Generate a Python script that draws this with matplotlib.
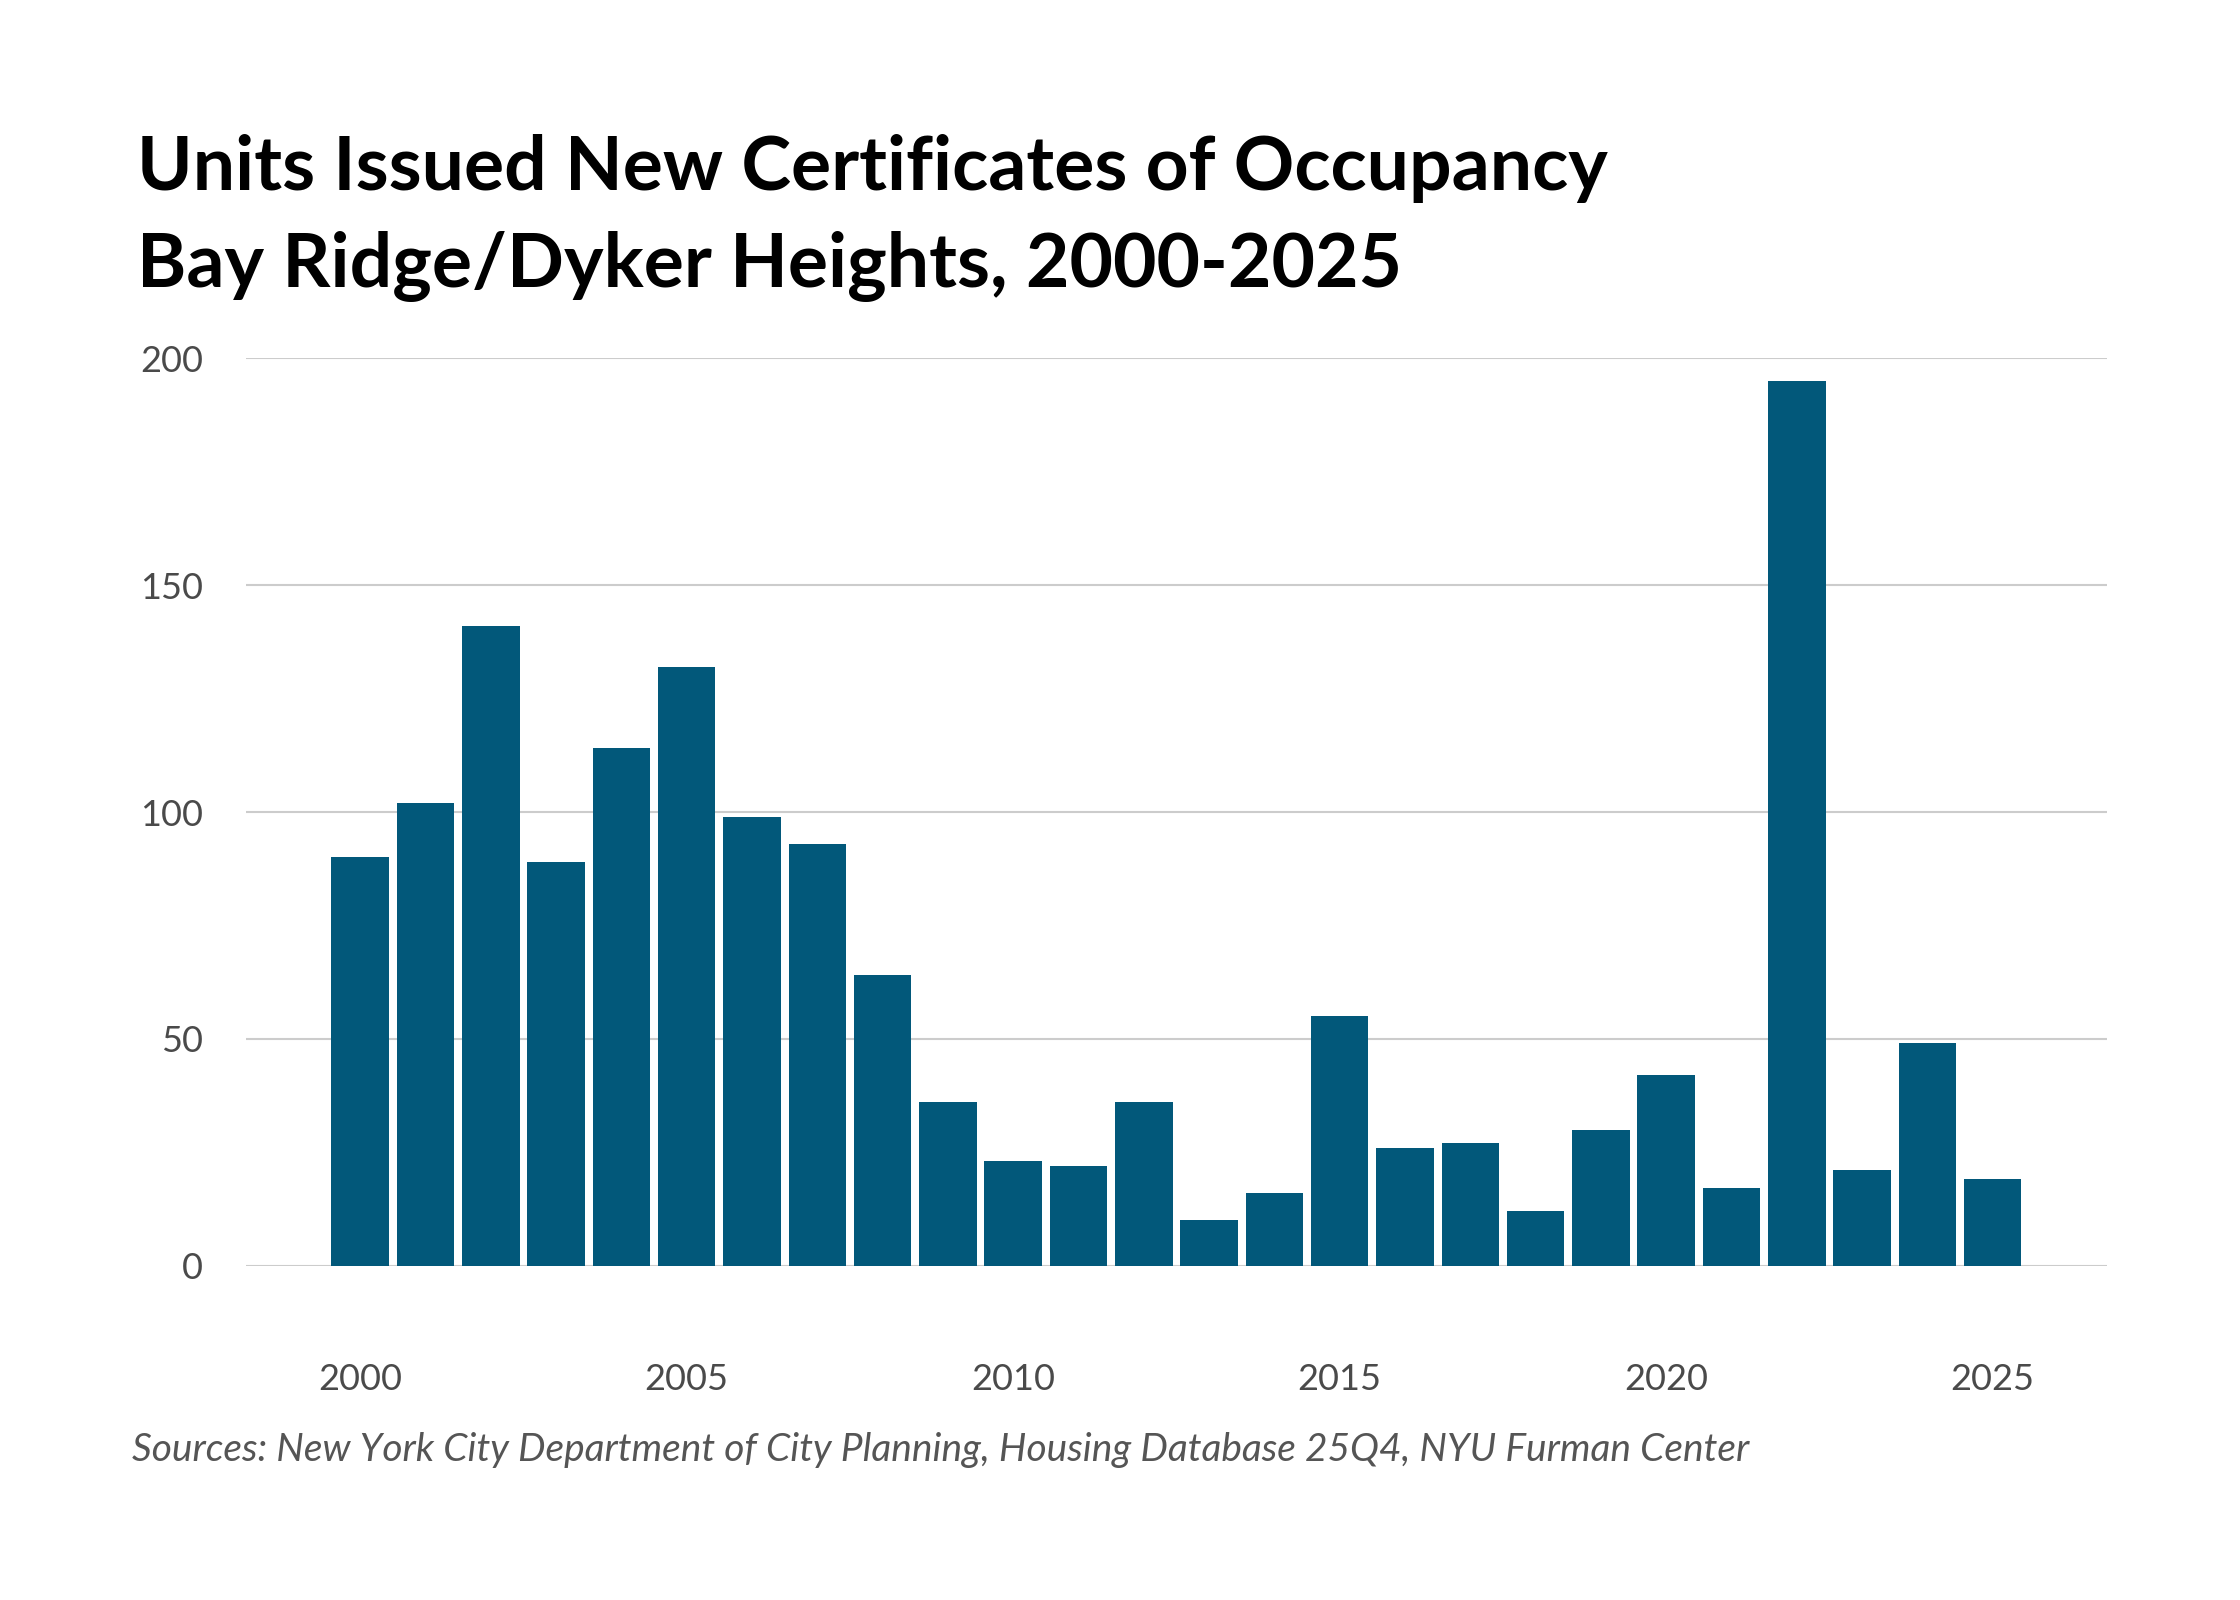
import matplotlib
matplotlib.use("Agg")
import matplotlib.pyplot as plt

years = list(range(2000, 2026))
units = [90, 102, 141, 89, 114, 132, 99, 93, 64, 36, 23, 22, 36,
         10, 16, 55, 26, 27, 12, 30, 42, 17, 195, 21, 49, 19]
y_ticks = [0, 50, 100, 150, 200]
x_ticks = [2000, 2005, 2010, 2015, 2020, 2025]

title = "Units Issued New Certificates of Occupancy\nBay Ridge/Dyker Heights, 2000-2025"
source = "Sources: New York City Department of City Planning, Housing Database 25Q4, NYU Furman Center"

plt.rcParams['font.family'] = ['Lato', 'DejaVu Sans']

fig = plt.figure(figsize=(22.4, 16), dpi=100)
ax = fig.add_axes([0.1098, 0.209, 0.8308, 0.567])

ax.bar(years, units, width=0.88, color='#02587a', zorder=3)

ax.set_xlim(1998.25, 2026.75)
ax.set_ylim(0, 200)
ax.set_yticks(y_ticks)
ax.set_xticks(x_ticks)
ax.grid(axis='y', color='#cccccc', linewidth=1.5, zorder=0)
for s in ax.spines.values():
    s.set_visible(False)
ax.tick_params(axis='both', length=0, labelsize=26, labelcolor='#4a4a4a')
ax.tick_params(axis='x', pad=70)
ax.tick_params(axis='y', pad=31)

fig.text(0.061, 0.916, title, fontsize=54, fontweight='bold', color='black',
         va='top', ha='left', linespacing=1.5)
fig.text(0.059, 0.094, source, fontsize=28, style='italic', color='#555555',
         va='center', ha='left')

fig.savefig('out.png', dpi=100)
